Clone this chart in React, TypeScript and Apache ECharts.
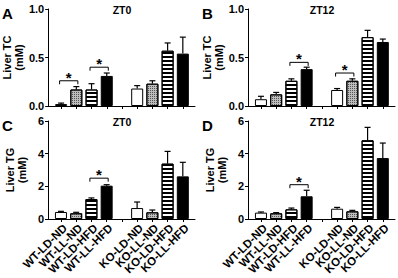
import React, { useEffect, useRef } from "react";
import * as echarts from "echarts";

const categories = ["WT-LD-ND", "WT-LL-ND", "WT-LD-HFD", "WT-LL-HFD", "KO-LD-ND", "KO-LL-ND", "KO-LD-HFD", "KO-LL-HFD"];
const positions = [1, 2, 3, 4, 6, 7, 8, 9];

const tcZT0 = [0.02, 0.17, 0.17, 0.31, 0.18, 0.23, 0.57, 0.54];
const tcZT0Err = [0.01, 0.03, 0.06, 0.03, 0.03, 0.03, 0.08, 0.17];
const tcZT12 = [0.07, 0.12, 0.26, 0.38, 0.165, 0.26, 0.71, 0.66];
const tcZT12Err = [0.03, 0.02, 0.02, 0.02, 0.015, 0.02, 0.07, 0.03];
const tgZT0 = [0.43, 0.35, 1.22, 2.04, 0.67, 0.41, 3.39, 2.61];
const tgZT0Err = [0.04, 0.06, 0.07, 0.06, 0.37, 0.14, 0.75, 0.86];
const tgZT12 = [0.39, 0.35, 0.59, 1.39, 0.63, 0.47, 4.82, 3.73];
const tgZT12Err = [0.04, 0.04, 0.08, 0.37, 0.08, 0.06, 0.79, 0.92];

// brackets: [fromPosition, toPosition, height]
const bracketsA = [[1, 2, 0.26], [3, 4, 0.4]];
const bracketsB = [[3, 4, 0.45], [6, 7, 0.34]];
const bracketsC = [[3, 4, 2.5]];
const bracketsD = [[3, 4, 2.1]];

const panelLetters = ["A", "B", "C", "D"];
const panelTitles = ["ZT0", "ZT12", "ZT0", "ZT12"];
const yNames = ["Liver TC\n(mM)", "Liver TC\n(mM)", "Liver TG\n(mM)", "Liver TG\n(mM)"];
const tcTicks = { min: 0, max: 1, interval: 0.5 };
const tgTicks = { min: 0, max: 6, interval: 2 };

const FONT = "'Liberation Sans', Arial, sans-serif";

const barStyles: any[] = [
  { color: "#ffffff", borderColor: "#000", borderWidth: 1 },
  {
    color: "#bdbdbd", borderColor: "#000", borderWidth: 1,
    decal: { symbol: "rect", symbolSize: 1, dashArrayX: [1, 1], dashArrayY: [1, 1], color: "#555" },
  },
  {
    color: "#ffffff", borderColor: "#000", borderWidth: 1,
    decal: { symbol: "rect", symbolSize: 1, dashArrayX: [1, 0], dashArrayY: [1.3, 2], color: "#000" },
  },
  { color: "#000000", borderColor: "#000", borderWidth: 1 },
];

export default function App() {
  const ref = useRef<HTMLDivElement>(null);
  useEffect(() => {
    document.body.style.margin = "0";
    if (!ref.current) return;
    const chart = echarts.init(ref.current, undefined, { renderer: "svg" });

    const grids = [
      { left: 48, top: 9, width: 147, height: 97 },
      { left: 248, top: 9, width: 147, height: 97 },
      { left: 48, top: 121, width: 147, height: 98 },
      { left: 248, top: 121, width: 147, height: 98 },
    ];
    const values = [tcZT0, tcZT12, tgZT0, tgZT12];
    const errs = [tcZT0Err, tcZT12Err, tgZT0Err, tgZT12Err];
    const brackets = [bracketsA, bracketsB, bracketsC, bracketsD];

    const xAxes = grids.map((_, i) => ({
      type: "value",
      gridIndex: i,
      min: 0.15,
      max: 9.8,
      splitLine: { show: false },
      axisLine: { show: true, lineStyle: { color: "#000", width: 1 } },
      axisTick: { show: true, length: 3, lineStyle: { color: "#000" }, customValues: [1, 2, 3, 4, 5, 6, 7, 8, 9] },
      axisLabel: { show: false },
    }));

    const yAxes = grids.map((_, i) => {
      const t = i < 2 ? tcTicks : tgTicks;
      return {
        type: "value",
        gridIndex: i,
        min: t.min,
        max: t.max,
        interval: t.interval,
        name: yNames[i],
        nameLocation: "middle",
        nameGap: 20,
        nameTextStyle: { color: "#000", fontSize: 11, fontWeight: "bold", fontFamily: FONT, lineHeight: 12 },
        splitLine: { show: false },
        axisLine: { show: true, lineStyle: { color: "#000", width: 1 } },
        axisTick: { show: true, length: 3, lineStyle: { color: "#000" } },
        axisLabel: {
          color: "#000",
          fontSize: 11,
          fontWeight: "bold",
          fontFamily: FONT,
          margin: 4,
          showMinLabel: true,
          showMaxLabel: true,
          formatter: (v: number) => (i < 2 ? v.toFixed(1) : String(v)),
        },
      };
    });

    const series: any[] = [];
    grids.forEach((_, i) => {
      series.push({
        type: "bar",
        xAxisIndex: i,
        yAxisIndex: i,
        barWidth: 12,
        data: values[i].map((v, k) => ({ value: [positions[k], v], itemStyle: barStyles[k % 4] })),
        z: 2,
      });
      series.push({
        type: "custom",
        xAxisIndex: i,
        yAxisIndex: i,
        clip: false,
        z: 3,
        encode: { x: 0, y: 1 },
        data: values[i].map((v, k) => [positions[k], v, errs[i][k]]),
        renderItem: (params: any, api: any) => {
          const x = api.value(0);
          const top = api.value(1);
          const e = api.value(2);
          const p0 = api.coord([x, top]);
          const p1 = api.coord([x, top + e]);
          const st = { stroke: "#000", lineWidth: 1.2 };
          return {
            type: "group",
            children: [
              { type: "line", shape: { x1: p0[0], y1: p0[1], x2: p1[0], y2: p1[1] }, style: st },
              { type: "line", shape: { x1: p1[0] - 3, y1: p1[1], x2: p1[0] + 3, y2: p1[1] }, style: st },
            ],
          };
        },
      });
      series.push({
        type: "custom",
        xAxisIndex: i,
        yAxisIndex: i,
        clip: false,
        z: 4,
        encode: { x: 0, y: 2 },
        data: brackets[i],
        renderItem: (params: any, api: any) => {
          const a = api.coord([api.value(0) - 0.1, api.value(2)]);
          const b = api.coord([api.value(1) + 0.1, api.value(2)]);
          return {
            type: "group",
            children: [
              {
                type: "polyline",
                shape: { points: [[a[0], a[1] + 3.5], [a[0], a[1]], [b[0], b[1]], [b[0], b[1] + 3.5]] },
                style: { stroke: "#000", lineWidth: 1, fill: null },
              },
              {
                type: "text",
                x: (a[0] + b[0]) / 2,
                y: a[1] + 4,
                style: {
                  text: "*",
                  fill: "#000",
                  font: `bold 15px ${FONT}`,
                  textAlign: "center",
                  textVerticalAlign: "bottom",
                },
              },
            ],
          };
        },
      });
      if (i >= 2) {
        // rotated category labels placed through the x scale
        series.push({
          type: "custom",
          xAxisIndex: i,
          yAxisIndex: i,
          clip: false,
          z: 5,
          encode: { x: 0, y: 1 },
          data: positions.map((p, k) => [p, 0, k]),
          renderItem: (params: any, api: any) => {
            const pt = api.coord([api.value(0), 0]);
            const name = categories[api.value(2)];
            return {
              type: "text",
              x: pt[0] + 4,
              y: pt[1] + 7,
              rotation: Math.PI / 4,
              style: {
                text: name,
                fill: "#000",
                font: `bold 11.5px ${FONT}`,
                textAlign: "right",
                textVerticalAlign: "middle",
              },
            };
          },
        });
      }
    });

    const graphics: any[] = [];
    grids.forEach((g, i) => {
      graphics.push({
        type: "text",
        left: g.left - 46,
        top: g.top - 3,
        style: { text: panelLetters[i], fill: "#000", font: `bold 15px ${FONT}` },
      });
      graphics.push({
        type: "text",
        x: g.left + 74,
        y: g.top - 5,
        style: { text: panelTitles[i], fill: "#000", font: `bold 10.5px ${FONT}`, textAlign: "center" },
      });
    });

    chart.setOption({
      animation: false,
      backgroundColor: "#fff",
      grid: grids,
      xAxis: xAxes,
      yAxis: yAxes,
      series,
      graphic: graphics,
    });
    return () => chart.dispose();
  }, []);
  return <div ref={ref} style={{ width: 398, height: 278 }} />;
}
